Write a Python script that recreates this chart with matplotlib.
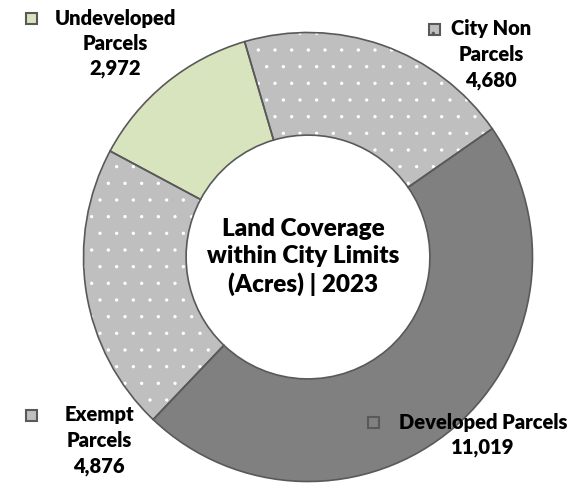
import matplotlib
matplotlib.use("Agg")
import matplotlib.pyplot as plt
from matplotlib.patches import Rectangle

# data
categories = ["City Non\nParcels", "Developed Parcels", "Exempt\nParcels", "Undeveloped\nParcels"]
acres = [4680, 11019, 4876, 2972]
title = "Land Coverage\nwithin City Limits\n(Acres) | 2023"

# styles
face_colors = ["#BFBFBF", "#808080", "#BFBFBF", "#D7E4BD"]
dotted = [True, False, True, False]
edge = "#595959"

# label layout in pixel coords (x centre, y of first line, from top), key square x
label_pos = [(491, 29, 429), (483, 422, 368), (99, 415, 26), (115, 18, 26)]

W, H = 575, 483
cx, cy, R = 308, 257, 224.5
ring = 0.457

plt.rcParams["font.family"] = ["Lato", "DejaVu Sans"]
plt.rcParams["hatch.linewidth"] = 0.0

fig = plt.figure(figsize=(W / 100, H / 100), dpi=100)
ax = fig.add_axes([0, 0, 1, 1])

# filled wedges with white dot hatch
wedges, _ = ax.pie(acres, colors=face_colors, startangle=106.4, counterclock=False,
                   center=(cx, H - cy), radius=R, frame=True,
                   wedgeprops=dict(width=R * ring, edgecolor="white", linewidth=0))
for w, d in zip(wedges, dotted):
    if d:
        w.set_hatch(".")
        w.set_edgecolor("white")
# outlines on top
ax.pie(acres, colors=["none"] * 4, startangle=106.4, counterclock=False,
       center=(cx, H - cy), radius=R, frame=True,
       wedgeprops=dict(width=R * ring, edgecolor=edge, linewidth=1.2, fill=False))

ax.set_xlim(0, W)
ax.set_ylim(0, H)
ax.set_aspect("auto")
ax.axis("off")

ax.text(cx - 5, H - cy, title, ha="center", va="center", fontsize=17.5,
        fontweight="heavy", linespacing=1.25, color="black")

total_fmt = ["{:,}".format(v) for v in acres]
for cat, val, (x, y, kx), fc, d in zip(categories, total_fmt, label_pos, face_colors, dotted):
    lines = cat.split("\n") + [val]
    for i, line in enumerate(lines):
        ax.text(x, H - (y + i * 25.5), line, ha="center", va="center",
                fontsize=14.5, fontweight="heavy", color="black")
    ax.add_patch(Rectangle((kx, H - y - 6), 11, 11, facecolor=fc, edgecolor=edge,
                           linewidth=1.5, hatch="." if d else None))

fig.savefig("out.png", dpi=100)
